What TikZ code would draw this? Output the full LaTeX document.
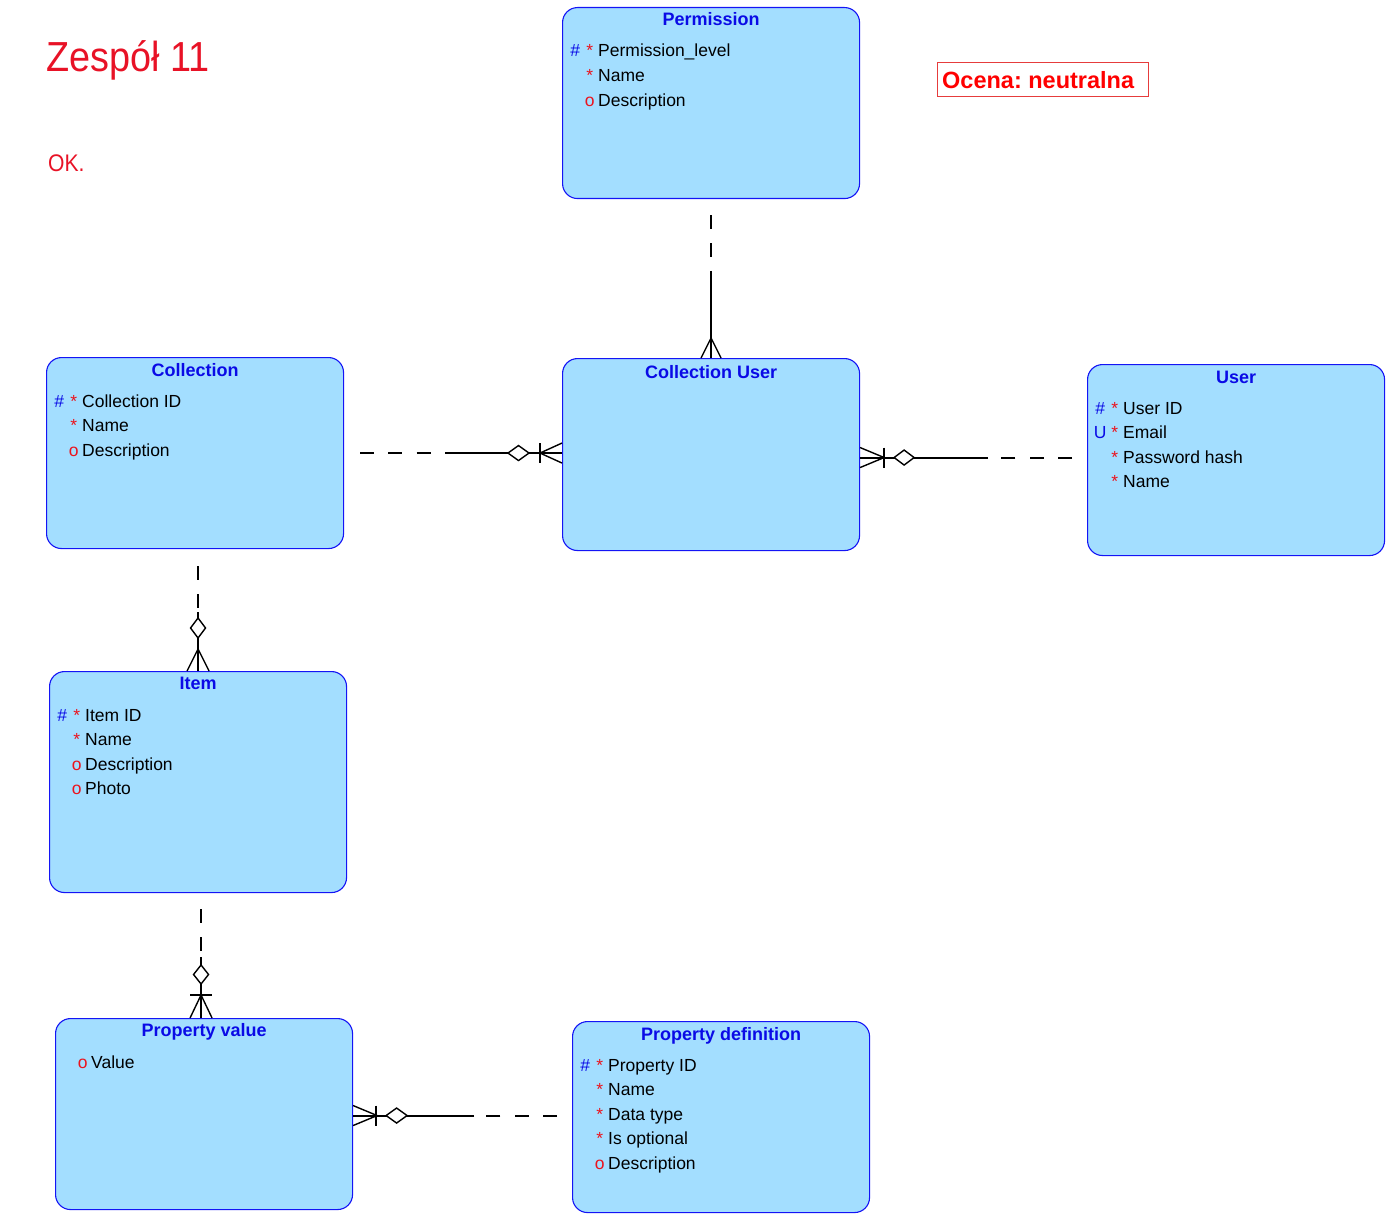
\documentclass[tikz,border=0pt]{standalone}
\usepackage{fontspec}
\setmainfont{Liberation Sans}
\usetikzlibrary{calc}
\frenchspacing

\definecolor{entfill}{RGB}{163,222,255}
\definecolor{entdraw}{RGB}{20,20,245}
\definecolor{keyblue}{RGB}{10,10,230}
\definecolor{flagred}{RGB}{235,20,30}
\definecolor{notered}{RGB}{232,18,38}
\definecolor{boxred}{RGB}{230,60,60}

% one attribute row: key marker, mandatory/optional marker, attribute name
\newcommand\attrrow[3]{%
  \makebox[0pt][l]{\makebox[26pt]{\color{keyblue}#1}}%
  \makebox[0pt][l]{\hspace{20pt}\makebox[15pt]{\color{flagred}#2}}%
  \hspace{36pt}#3}

% attribute rows of an entity box
\newcommand\attrs[2]{%
  \foreach \k/\f/\t [count=\i] in {#2} {%
    \node[attr] (#1-\i) at ($(#1.north west)+(0,50+24.6*\i-24.6)$) {\attrrow{\k}{\f}{\t}};
  }}

\tikzset{
  entity/.style={draw=entdraw, fill=entfill, line width=1.1pt, rounded corners=15pt,
    anchor=north west, minimum width=297pt, inner sep=0pt},
  etitle/.style={anchor=base, inner sep=0pt, text=keyblue,
    font=\fontsize{18}{20}\selectfont\bfseries},
  attr/.style={anchor=base west, inner sep=0pt, text=black,
    font=\fontsize{17.5}{20}\selectfont},
  solidpart/.style={draw=black, line width=2pt},
  dashpart/.style={draw=black, line width=2pt, dash pattern=on 14pt off 14.3pt},
  crow/.style={draw=black, line width=1.4pt},
  opt/.style={draw=black, fill=white, line width=1.4pt}
}

\begin{document}
\begin{tikzpicture}[x=1pt,y=-1pt]
\useasboundingbox (0,0) rectangle (1396,1222);

% ---------- entity boxes ----------
\node[entity, minimum height=191pt] (perm) at (562,7) {};
\node[entity, minimum height=192pt] (cu)   at (562,358) {};
\node[entity, minimum height=191pt] (user) at (1087,364) {};
\node[entity, minimum height=191pt] (coll) at (46,357) {};
\node[entity, minimum height=221pt] (item) at (49,671) {};
\node[entity, minimum height=191pt] (pval) at (55,1018) {};
\node[entity, minimum height=191pt] (pdef) at (572,1021) {};

% ---------- titles ----------
\node[etitle] (perm-t) at ($(perm.north)+(0,18.5)$) {Permission};
\node[etitle] (cu-t)   at ($(cu.north)+(0,20)$) {Collection User};
\node[etitle] (user-t) at ($(user.north)+(0,19.5)$) {User};
\node[etitle] (coll-t) at ($(coll.north)+(0,19)$) {Collection};
\node[etitle] (item-t) at ($(item.north)+(0,18.5)$) {Item};
\node[etitle] (pval-t) at ($(pval.north)+(0,18.5)$) {Property value};
\node[etitle] (pdef-t) at ($(pdef.north)+(0,19)$) {Property definition};

% ---------- attributes ----------
\attrs{perm}{\#/*/Permission\_level, /*/Name, /o/Description}
\attrs{coll}{\#/*/Collection ID, /*/Name, /o/Description}
\attrs{user}{\#/*/User ID, U/*/Email, /*/Password hash, /*/Name}
\attrs{item}{\#/*/Item ID, /*/Name, /o/Description, /o/Photo}
\attrs{pval}{ /o/Value}
\attrs{pdef}{\#/*/Property ID, /*/Name, /*/Data type, /*/Is optional, /o/Description}

% ---------- Permission -- Collection User ----------
\draw[dashpart] ($(perm.south)+(0,16)$) -- ($(cu.north)+(0,-87)$);
\draw[solidpart] ($(cu.north)+(0,-87)$) -- (cu.north);
\draw[crow] ($(cu.north)+(-10,0)$) -- ($(cu.north)+(0,-20)$) -- ($(cu.north)+(10,0)$);

% ---------- Collection -- Collection User ----------
\coordinate (c2) at ($(cu.north west)!(coll.east)!(cu.south west)$);
\draw[dashpart] ($(coll.east)+(16,0)$) -- ($(c2)+(-117,0)$);
\draw[solidpart] ($(c2)+(-117,0)$) -- (c2);
\draw[crow] ($(c2)+(0,-10)$) -- ($(c2)+(-22,0)$) -- ($(c2)+(0,10)$);
\draw[crow] ($(c2)+(-22,-10)$) -- ($(c2)+(-22,10)$);
\draw[opt] ($(c2)+(-54,0)$) -- ($(c2)+(-43.5,-7.5)$) -- ($(c2)+(-33,0)$)
  -- ($(c2)+(-43.5,7.5)$) -- cycle;

% ---------- Collection User -- User ----------
\coordinate (c3) at ($(cu.east)+(0,3)$);
\coordinate (c3u) at (c3 -| user.west);
\draw[dashpart] ($(c3u)+(-15,0)$) -- ($(c3)+(128,0)$);
\draw[solidpart] ($(c3)+(128,0)$) -- (c3);
\draw[crow] ($(c3)+(0,-10)$) -- ($(c3)+(24,0)$) -- ($(c3)+(0,10)$);
\draw[crow] ($(c3)+(24,-10)$) -- ($(c3)+(24,10)$);
\draw[opt] ($(c3)+(34,0)$) -- ($(c3)+(44,-7.5)$) -- ($(c3)+(54,0)$)
  -- ($(c3)+(44,7.5)$) -- cycle;

% ---------- Collection -- Item ----------
\coordinate (c4) at (item.north);
\coordinate (c4c) at (c4 |- coll.south);
\draw[dashpart] ($(c4c)+(0,17)$) -- ($(c4)+(0,-59)$);
\draw[solidpart] ($(c4)+(0,-59)$) -- (c4);
\draw[crow] ($(c4)+(-11,0)$) -- ($(c4)+(0,-22)$) -- ($(c4)+(11,0)$);
\draw[opt] ($(c4)+(0,-53)$) -- ($(c4)+(7.5,-43)$) -- ($(c4)+(0,-33)$)
  -- ($(c4)+(-7.5,-43)$) -- cycle;

% ---------- Item -- Property value ----------
\coordinate (c5) at ($(pval.north)+(-3,0)$);
\coordinate (c5i) at (c5 |- item.south);
\draw[dashpart] ($(c5i)+(0,16)$) -- ($(c5)+(0,-61)$);
\draw[solidpart] ($(c5)+(0,-61)$) -- (c5);
\draw[crow] ($(c5)+(-11,0)$) -- ($(c5)+(0,-23)$) -- ($(c5)+(11,0)$);
\draw[crow] ($(c5)+(-11,-23)$) -- ($(c5)+(11,-23)$);
\draw[opt] ($(c5)+(0,-53)$) -- ($(c5)+(7.5,-43.5)$) -- ($(c5)+(0,-34)$)
  -- ($(c5)+(-7.5,-43.5)$) -- cycle;

% ---------- Property value -- Property definition ----------
\coordinate (c6) at ($(pval.east)+(0,1.5)$);
\coordinate (c6d) at (c6 -| pdef.west);
\draw[dashpart] ($(c6d)+(-15,0)$) -- ($(c6)+(121,0)$);
\draw[solidpart] ($(c6)+(121,0)$) -- (c6);
\draw[crow] ($(c6)+(0,-10)$) -- ($(c6)+(24,0)$) -- ($(c6)+(0,10)$);
\draw[crow] ($(c6)+(23,-10)$) -- ($(c6)+(23,10)$);
\draw[opt] ($(c6)+(33,0)$) -- ($(c6)+(43.5,-7.5)$) -- ($(c6)+(54,0)$)
  -- ($(c6)+(43.5,7.5)$) -- cycle;

% ---------- notes ----------
\node[anchor=base west, inner sep=0pt, text=notered] (team) at (46,72)
  {\scalebox{0.9}[1]{\fontsize{42}{46}\selectfont Zespół 11}};
\node[anchor=base west, inner sep=0pt, text=notered] (ok) at (48,172)
  {\scalebox{0.88}[1]{\fontsize{24}{28}\selectfont OK.}};
\node[draw=boxred, line width=1.3pt, text=red, inner sep=0pt,
  minimum width=211pt, minimum height=34pt, anchor=north west,
  font=\fontsize{23.5}{26}\selectfont\bfseries] (grade) at (937,62)
  {\mbox{Ocena: neutralna\hspace{10pt}}};
\end{tikzpicture}
\end{document}
